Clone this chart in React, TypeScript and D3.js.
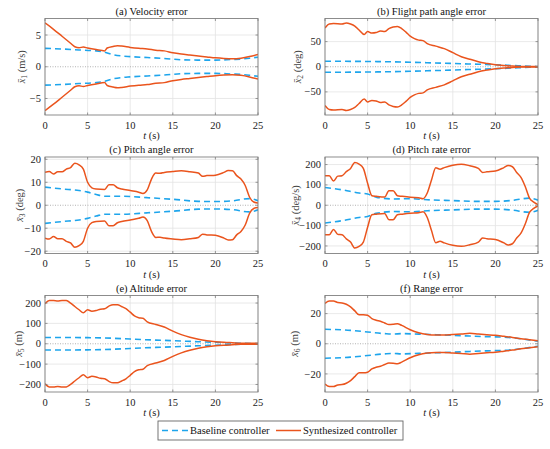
import React from "react";
import * as d3 from "d3";

const W = 550;
const H = 449;

// ---- data (upper / lower envelopes) ----
const tA = [0, 1, 2, 3, 3.5, 4, 4.5, 5, 6, 7, 7.3, 8, 8.5, 9, 10, 11, 12, 13, 14, 15, 16, 17, 18, 19, 20, 21, 22, 23, 24, 25];
const synA = [6.9, 5.9, 4.8, 3.7, 3.15, 3.0, 3.1, 2.95, 2.7, 2.5, 2.95, 3.2, 3.3, 3.25, 3.05, 2.9, 2.8, 2.6, 2.5, 2.2, 2.0, 1.85, 1.7, 1.55, 1.4, 1.3, 1.25, 1.35, 1.6, 1.95];
const synAlo = [-6.9, -5.9, -4.8, -3.7, -3.15, -3.0, -3.1, -2.95, -2.7, -2.5, -2.95, -3.2, -3.3, -3.25, -3.05, -2.9, -2.8, -2.6, -2.5, -2.2, -2.0, -1.85, -1.7, -1.55, -1.4, -1.3, -1.25, -1.35, -1.6, -1.95];
const tAb = [0, 2, 4, 6, 7, 8, 9, 10, 12, 14, 16, 18, 20, 22, 23, 24, 25];
const baseA = [2.9, 2.8, 2.65, 2.5, 2.3, 1.9, 1.7, 1.6, 1.45, 1.3, 1.1, 1.05, 1.05, 1.15, 1.2, 1.35, 1.5];
const baseAlo = [-2.9, -2.8, -2.65, -2.5, -2.3, -1.9, -1.7, -1.6, -1.45, -1.3, -1.1, -1.05, -1.05, -1.15, -1.2, -1.35, -1.5];

const tB = [0, 0.5, 1, 2, 2.5, 3, 3.5, 4, 4.6, 5, 5.5, 6, 6.5, 7, 7.5, 8, 8.5, 9, 9.5, 10, 10.5, 11, 11.5, 12, 13, 14, 15, 16, 17, 18, 19, 20, 21, 22, 23, 25];
const synB = [77, 85, 86, 85, 87, 85, 81, 73, 64, 70, 67, 68, 71, 70, 76, 79, 80, 76, 69, 61, 56, 53, 52, 46, 41, 36, 28, 20, 15, 10, 6.7, 4, 2.7, 1.3, 0.7, 0.3];
const synBlo = [-77, -85, -86, -85, -87, -85, -81, -73, -64, -70, -67, -68, -71, -70, -76, -79, -80, -76, -69, -61, -56, -53, -52, -46, -41, -36, -28, -20, -15, -10, -6.7, -4, -2.7, -1.3, -0.7, -0.3];
const tBb = [0, 5, 10, 12, 15, 18, 20, 22, 24, 25];
const baseB = [11, 10.5, 9, 8, 6.5, 5, 4, 2.5, 1, 0.5];
const baseBlo = [-11, -10.5, -9, -8, -6.5, -5, -4, -2.5, -1, -0.5];

const tC = [0, 0.5, 1, 1.5, 2, 2.5, 3, 3.5, 4, 4.5, 5, 5.5, 6, 7, 7.5, 8, 8.5, 9, 10, 11, 11.5, 12, 12.5, 13, 13.5, 14, 15, 16, 17, 18, 18.5, 19, 20, 21, 21.5, 22, 22.5, 23, 23.5, 24, 24.5, 25];
const synC = [14.3, 14.7, 13.6, 14.6, 14.6, 15.7, 16.4, 18.3, 17.6, 15.7, 10, 7.6, 7.1, 6.9, 8.9, 8.9, 7.6, 7.1, 6.4, 5.7, 5.1, 6.7, 11.4, 14, 13.9, 14.3, 14.7, 15, 14.6, 14, 12.6, 12.9, 13.1, 14.3, 15.1, 15, 12.9, 11.4, 8.6, 3.6, 1.4, 1];
const synClo = [-14.3, -14.7, -13.6, -14.6, -14.6, -15.7, -16.4, -18.3, -17.6, -15.7, -10, -7.6, -7.1, -6.9, -8.9, -8.9, -7.6, -7.1, -6.4, -5.7, -5.1, -6.7, -11.4, -14, -13.9, -14.3, -14.7, -15, -14.6, -14, -12.6, -12.9, -13.1, -14.3, -15.1, -15, -12.9, -11.4, -8.6, -3.6, -1.4, -1];
const tCb = [0, 2, 4, 5, 6, 7, 9, 12, 15, 18, 20, 22, 24, 25];
const baseC = [7.9, 7.1, 6.4, 5.7, 4.7, 3.9, 3.9, 3.3, 2.6, 1.7, 1.6, 1.9, 2.9, 2.0];
const baseClo = [-7.9, -7.1, -6.4, -5.7, -4.7, -3.9, -3.9, -3.3, -2.6, -1.7, -1.6, -1.9, -2.9, -2.0];

const tD = [0, 0.5, 1, 1.5, 2, 2.5, 3, 3.5, 4, 4.5, 5, 5.5, 6, 7, 7.5, 8, 8.5, 9, 10, 11, 11.5, 12, 12.5, 13, 13.5, 14, 15, 16, 17, 18, 18.5, 19, 20, 21, 21.5, 22, 22.5, 23, 23.5, 24, 24.5, 25];
const synD = [145, 145, 119, 143, 145, 165, 181, 210, 202, 181, 108, 47, 44, 40, 71, 71, 47, 44, 39, 37, 32, 60, 124, 184, 177, 185, 197, 202, 194, 181, 161, 164, 168, 185, 195, 189, 161, 137, 92, 35, 15, 3];
const synDlo = [-145, -145, -119, -143, -145, -165, -181, -210, -202, -181, -108, -47, -44, -40, -71, -71, -47, -44, -39, -37, -32, -60, -124, -184, -177, -185, -197, -202, -194, -181, -161, -164, -168, -185, -195, -189, -161, -137, -92, -35, -15, -3];
const tDb = [0, 2, 4, 5, 6, 8, 10, 12, 15, 18, 20, 22, 24, 25];
const baseD = [87, 76, 60, 55, 40, 31, 32, 27, 23, 19, 19, 24, 35, 25];
const baseDlo = [-87, -76, -60, -55, -40, -31, -32, -27, -23, -19, -19, -24, -35, -25];

const tE = [0, 0.5, 1, 1.5, 2, 2.5, 3, 3.5, 4, 4.5, 5, 5.5, 6, 6.5, 7, 7.5, 8, 8.5, 9, 9.5, 10, 10.5, 11, 11.5, 12, 13, 14, 15, 16, 17, 18, 19, 20, 21, 22, 23, 25];
const synE = [197, 212, 212, 210, 213, 212, 200, 183, 167, 152, 167, 160, 163, 170, 172, 185, 192, 192, 183, 172, 155, 137, 128, 125, 108, 95, 82, 62, 45, 32, 22, 15, 10, 7, 5, 3, 2];
const synElo = [-197, -212, -212, -210, -213, -212, -200, -183, -167, -152, -167, -160, -163, -170, -172, -185, -192, -192, -183, -172, -155, -137, -128, -125, -108, -95, -82, -62, -45, -32, -22, -15, -10, -7, -5, -3, -2];
const tEb = [0, 5, 8, 10, 13, 15, 18, 20, 22, 25];
const baseE = [31, 30, 27, 23, 18, 15, 10, 7, 3.5, 1];
const baseElo = [-31, -30, -27, -23, -18, -15, -10, -7, -3.5, -1];

const tF = [0, 0.5, 1, 1.5, 2, 2.5, 3, 3.5, 4, 4.5, 5, 5.5, 6, 6.5, 7, 7.5, 8, 8.5, 9, 10, 11, 12, 13, 14, 15, 16, 17, 18, 19, 20, 21, 22, 23, 24, 25];
const synF = [26.7, 28.4, 28.4, 27.3, 27.1, 26.2, 24.4, 21.8, 19.3, 19.3, 18.9, 16.7, 15.6, 14.9, 13.8, 12.7, 12.9, 13.3, 12.2, 9.3, 7.3, 6.2, 5.8, 5.8, 6.2, 6.4, 6.9, 6.4, 6, 5.6, 4.9, 4.2, 3.3, 2.7, 2];
const synFlo = [-26.7, -28.4, -28.4, -27.3, -27.1, -26.2, -24.4, -21.8, -19.3, -19.3, -18.9, -16.7, -15.6, -14.9, -13.8, -12.7, -12.9, -13.3, -12.2, -9.3, -7.3, -6.2, -5.8, -5.8, -6.2, -6.4, -6.9, -6.4, -6, -5.6, -4.9, -4.2, -3.3, -2.7, -2];
const tFb = [0, 3, 5, 7, 8, 9, 11, 13, 15, 17, 19, 21, 23, 25];
const baseF = [9.6, 8.9, 7.8, 6.7, 6.4, 6.7, 6.4, 6, 5.6, 5.1, 4.7, 4.4, 3.3, 1.6];
const baseFlo = [-9.6, -8.9, -7.8, -6.7, -6.4, -6.7, -6.4, -6, -5.6, -5.1, -4.7, -4.4, -3.3, -1.6];

const xTicks = [0, 5, 10, 15, 20, 25];
const titles = ["(a) Velocity error", "(b) Flight path angle error", "(c) Pitch angle error", "(d) Pitch rate error", "(e) Altitude error", "(f) Range error"];
const yUnits = ["(m/s)", "(deg)", "(deg)", "(deg/s)", "(m)", "(m)"];
const yTicksList = [[-5, 0, 5], [-50, 0, 50], [-20, -10, 0, 10, 20], [-200, -100, 0, 100, 200], [-200, -100, 0, 100, 200], [-20, 0, 20]];
const yMax = [7.6, 96, 21, 237, 237, 32];
const legendLabels = ["Baseline controller", "Synthesized controller"];

// ---- style ----
const BLUE = "#1ea5ec";
const ORANGE = "#ea541d";
const FONT = "Liberation Serif, Times New Roman, Times, DejaVu Serif, serif";
const colX = [45, 325];
const axW = 213;
const rowY = [18.5, 157, 295.5];
const axH = 96.5;
const yLabelX = [21, 297, 19.5, 295, 18.5, 294.5];

type Panel = {
  syn: [number[], number[], number[]];
  base: [number[], number[], number[]];
};
const panels: Panel[] = [
  { syn: [tA, synA, synAlo], base: [tAb, baseA, baseAlo] },
  { syn: [tB, synB, synBlo], base: [tBb, baseB, baseBlo] },
  { syn: [tC, synC, synClo], base: [tCb, baseC, baseClo] },
  { syn: [tD, synD, synDlo], base: [tDb, baseD, baseDlo] },
  { syn: [tE, synE, synElo], base: [tEb, baseE, baseElo] },
  { syn: [tF, synF, synFlo], base: [tFb, baseF, baseFlo] },
];

const fmt = (v: number) => (v < 0 ? "\u2212" + Math.abs(v) : String(v));
const txt = { fontFamily: FONT };

function PanelView({ i }: { i: number }) {
  const left = colX[i % 2];
  const top = rowY[Math.floor(i / 2)];
  const x = d3.scaleLinear().domain([0, 25]).range([left, left + axW]);
  const y = d3.scaleLinear().domain([-yMax[i], yMax[i]]).range([top + axH, top]);
  const line = d3
    .line<[number, number]>()
    .x((d) => x(d[0]))
    .y((d) => y(d[1]))
    .curve(d3.curveMonotoneX);
  const p = panels[i];
  const mk = (ts: number[], vs: number[]) => line(ts.map((t, k) => [t, vs[k]] as [number, number])) || "";
  const yt = yTicksList[i];
  const bottom = top + axH;
  return (
    <g>
      <defs>
        <clipPath id={"clip" + i}>
          <rect x={left} y={top} width={axW} height={axH} />
        </clipPath>
      </defs>
      <rect x={left} y={top} width={axW} height={axH} fill="#fff" />
      {xTicks.map((t) => (
        <line key={"gx" + t} x1={x(t)} x2={x(t)} y1={top} y2={bottom} stroke="#e3e3e3" strokeWidth={0.8} />
      ))}
      {yt.map((v) =>
        v === 0 ? null : (
          <line key={"gy" + v} x1={left} x2={left + axW} y1={y(v)} y2={y(v)} stroke="#e3e3e3" strokeWidth={0.8} />
        )
      )}
      <line x1={left} x2={left + axW} y1={y(0)} y2={y(0)} stroke="#a0a0a0" strokeWidth={0.8} strokeDasharray="1,1.5" />
      <g clipPath={`url(#clip${i})`}>
        <path d={mk(p.base[0], p.base[1])} fill="none" stroke={BLUE} strokeWidth={1.6} strokeDasharray="6,4" />
        <path d={mk(p.base[0], p.base[2])} fill="none" stroke={BLUE} strokeWidth={1.6} strokeDasharray="6,4" />
        <path d={mk(p.syn[0], p.syn[1])} fill="none" stroke={ORANGE} strokeWidth={1.5} />
        <path d={mk(p.syn[0], p.syn[2])} fill="none" stroke={ORANGE} strokeWidth={1.5} />
      </g>
      <rect x={left} y={top} width={axW} height={axH} fill="none" stroke="#808080" strokeWidth={0.9} />
      {xTicks.map((t) => (
        <g key={"tx" + t}>
          <line x1={x(t)} x2={x(t)} y1={bottom} y2={bottom - 2.5} stroke="#808080" strokeWidth={0.8} />
          <line x1={x(t)} x2={x(t)} y1={top} y2={top + 2.5} stroke="#808080" strokeWidth={0.8} />
          <text x={x(t)} y={bottom + 13.5} textAnchor="middle" fontSize={10.5} style={txt} fill="#222">
            {t}
          </text>
        </g>
      ))}
      {yt.map((v) => (
        <g key={"ty" + v}>
          <line x1={left} x2={left + 2.5} y1={y(v)} y2={y(v)} stroke="#808080" strokeWidth={0.8} />
          <line x1={left + axW} x2={left + axW - 2.5} y1={y(v)} y2={y(v)} stroke="#808080" strokeWidth={0.8} />
          <text x={left - 4} y={y(v) + 3.6} textAnchor="end" fontSize={10.5} style={txt} fill="#222">
            {fmt(v)}
          </text>
        </g>
      ))}
      <text x={left + axW / 2} y={top - 4} textAnchor="middle" fontSize={10.5} style={txt} fill="#111">
        {titles[i]}
      </text>
      <text x={left + axW / 2} y={bottom + 24} textAnchor="middle" fontSize={10.5} style={txt} fill="#222">
        <tspan fontStyle="italic">t</tspan>
        <tspan> (s)</tspan>
      </text>
      <text
        transform={`translate(${yLabelX[i] + 3.5},${top + axH / 2}) rotate(-90)`}
        textAnchor="middle"
        fontSize={10.5}
        style={txt}
        fill="#444"
      >
        <tspan fontStyle="italic">{"x\u0304"}</tspan>
        <tspan fontSize={7.5} dy={2}>{String(i + 1)}</tspan>
        <tspan dy={-2}> {yUnits[i]}</tspan>
      </text>
    </g>
  );
}

export default function App() {
  const lx = 158;
  const ly = 421;
  return (
    <svg width={W} height={H} style={{ display: "block", position: "absolute", left: 0, top: 0, fontFamily: FONT }}>
      <rect width={W} height={H} fill="#fff" />
      {panels.map((_, i) => (
        <PanelView key={i} i={i} />
      ))}
      <rect x={lx} y={ly} width={245} height={19} fill="#fff" stroke="#666" strokeWidth={0.9} />
      <line x1={lx + 4} x2={lx + 30} y1={ly + 9.5} y2={ly + 9.5} stroke={BLUE} strokeWidth={1.6} strokeDasharray="6,4" />
      <text x={lx + 32} y={ly + 13.2} fontSize={10.5} style={txt} fill="#111">
        {legendLabels[0]}
      </text>
      <line x1={lx + 118} x2={lx + 143} y1={ly + 9.5} y2={ly + 9.5} stroke={ORANGE} strokeWidth={1.5} />
      <text x={lx + 145} y={ly + 13.2} fontSize={10.5} style={txt} fill="#111">
        {legendLabels[1]}
      </text>
    </svg>
  );
}
